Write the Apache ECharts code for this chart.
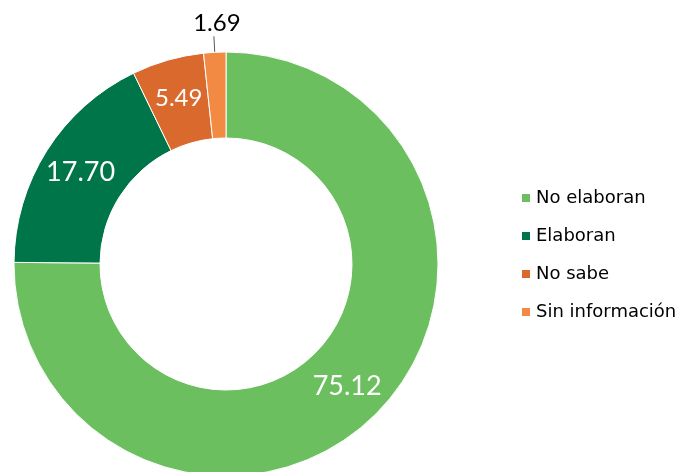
<!DOCTYPE html>
<html>
<head>
<meta charset="utf-8">
<script src="https://cdn.jsdelivr.net/npm/echarts@6/dist/echarts.min.js"></script>
<style>html,body{margin:0;padding:0;background:#fff}#c{width:677px;height:472px}</style>
</head>
<body>
<div id="c"></div>
<script>
var categories = ['No elaboran', 'Elaboran', 'No sabe', 'Sin información'];
var values = [75.12, 17.70, 5.49, 1.69];
var colors = ['#6BBF5F', '#00754A', '#D9692C', '#F28A43'];
var labelFontSizes = [27, 27, 24, 24];
var labelInside = [true, true, true, false];

var chart = echarts.init(document.getElementById('c'), null, {renderer: 'canvas'});
var data = categories.map(function (name, i) {
  return {
    name: name,
    value: values[i],
    itemStyle: {color: colors[i]},
    label: labelInside[i] ? {
      position: 'inside', color: '#fff', fontSize: labelFontSizes[i]
    } : {
      position: 'outside', color: '#000', fontSize: labelFontSizes[i]
    },
    labelLine: {show: !labelInside[i], length: 16, length2: 0, lineStyle: {color: '#595959', width: 1}}
  };
});
chart.setOption({
  animation: false,
  legend: {
    orient: 'vertical',
    left: 515,
    top: 184,
    icon: 'rect',
    itemWidth: 10,
    itemHeight: 10,
    itemGap: 20,
    textStyle: {fontFamily: 'DejaVu Sans', fontSize: 18, color: '#000'},
    data: categories
  },
  series: [{
    type: 'pie',
    center: [226, 264],
    radius: [126, 212],
    startAngle: 90,
    clockwise: true,
    avoidLabelOverlap: false,
    itemStyle: {borderColor: '#fff', borderWidth: 1},
    label: {
      fontFamily: 'Lato',
      formatter: function (p) { return p.value.toFixed(2); }
    },
    labelLayout: function (p) {
      if (!labelInside[p.dataIndex]) {
        return {align: 'center', verticalAlign: 'bottom', dx: 8, dy: -1};
      }
      return {};
    },
    data: data
  }]
});
</script>
</body>
</html>
